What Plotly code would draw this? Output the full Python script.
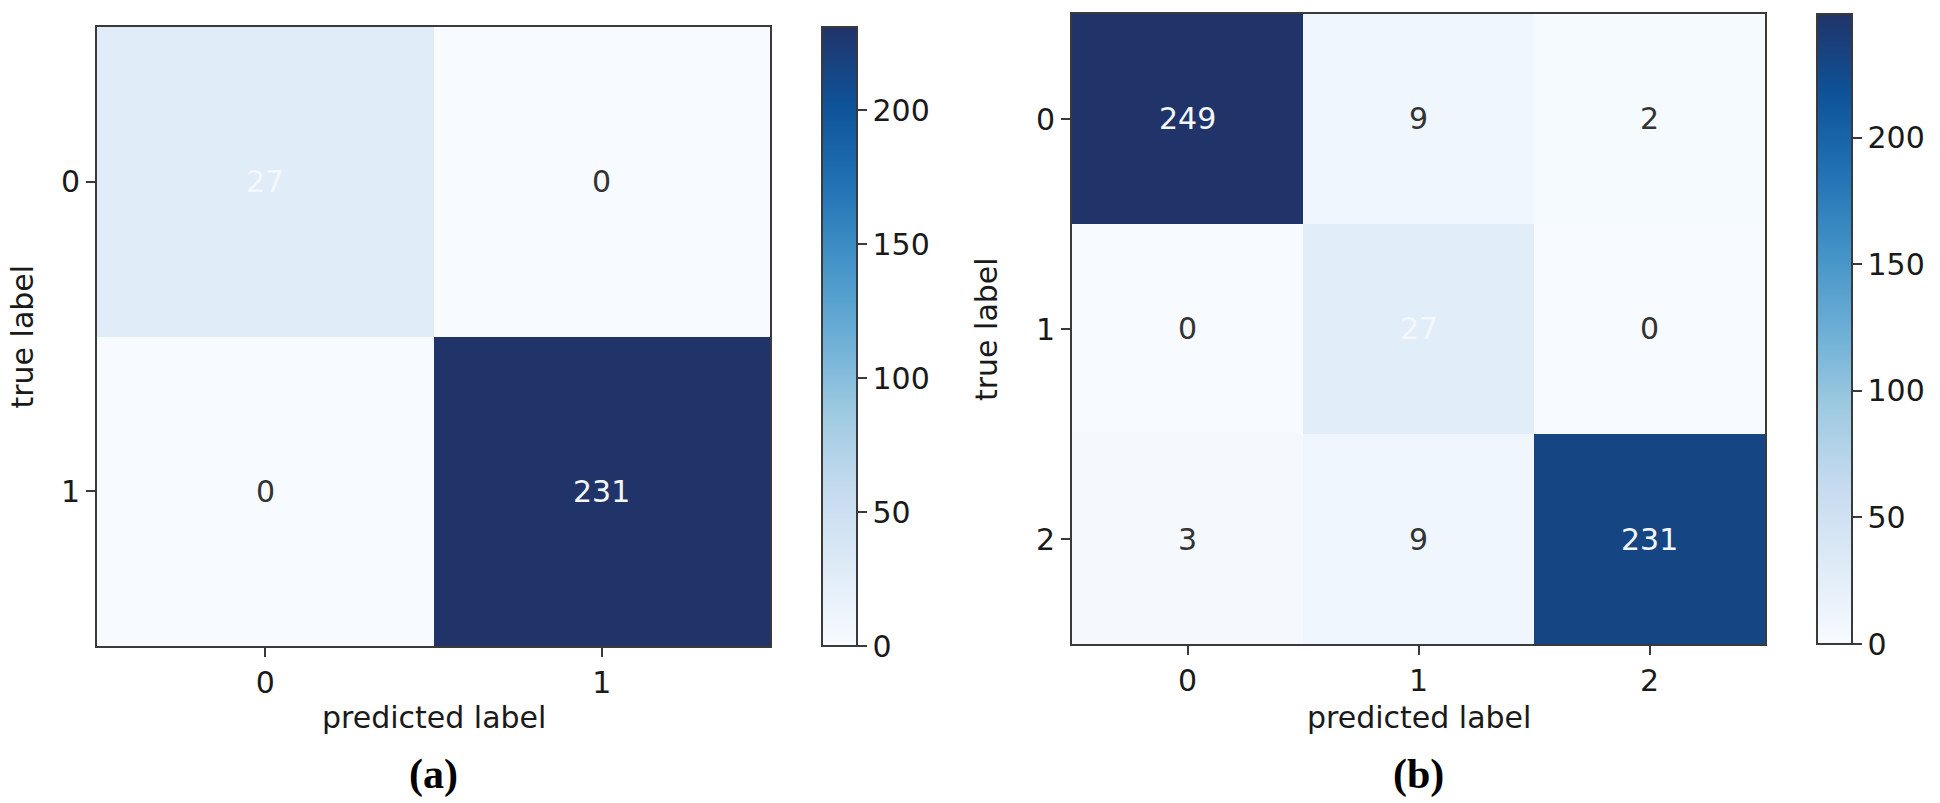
import plotly.graph_objects as go

# ---------------- data ----------------
labels_a = [0, 1]
cm_a = [[27, 0],
        [0, 231]]
labels_b = [0, 1, 2]
cm_b = [[249, 9, 2],
        [0, 27, 0],
        [3, 9, 231]]
cbar_ticks = [0, 50, 100, 150, 200]
captions = ["(a)", "(b)"]
x_title = "predicted label"
y_title = "true label"

# ---------------- layout helpers ----------------
W, H = 1940, 803
def px_x(v):
    return v / W
def px_y(v):
    return 1 - v / H

blues = [
    [0.0, "rgb(247,251,255)"], [0.125, "rgb(222,235,247)"], [0.25, "rgb(198,219,239)"],
    [0.375, "rgb(158,202,225)"], [0.5, "rgb(107,174,214)"], [0.625, "rgb(66,146,198)"],
    [0.75, "rgb(33,113,181)"], [0.875, "rgb(14,82,152)"], [1.0, "rgb(33,52,105)"],
]

FONT = "DejaVu Sans"
AXCOL = "#3a3a3a"
TXT = "#1a1a1a"

panels = [
    dict(cm=cm_a, labels=labels_a, box=(97, 770, 27, 646), cbar=(822, 27, 646),
         title_x=22, cap=captions[0]),
    dict(cm=cm_b, labels=labels_b, box=(1072, 1765, 14, 644), cbar=(1817, 14, 644),
         title_x=986, cap=captions[1]),
]

fig = go.Figure()
annotations = []
for i, p in enumerate(panels):
    n = len(p["labels"])
    x0, x1, y0, y1 = p["box"]
    xa = "x" if i == 0 else "x2"
    ya = "y" if i == 0 else "y2"
    cbx, cby0, cby1 = p["cbar"]
    zmax = max(max(r) for r in p["cm"])
    fig.add_trace(go.Heatmap(
        z=p["cm"], x=p["labels"], y=p["labels"], xaxis=xa, yaxis=ya,
        colorscale=blues, zmin=0, zmax=zmax, hoverinfo="z",
        colorbar=dict(
            x=px_x(cbx), xanchor="left", xref="paper", xpad=0, ypad=0,
            y=px_y(cby1), yanchor="bottom", len=(cby1 - cby0) / H, lenmode="fraction",
            thickness=35, thicknessmode="pixels",
            outlinewidth=2, outlinecolor=AXCOL,
            tickvals=cbar_ticks, ticks="outside", ticklen=9, tickwidth=2, tickcolor=AXCOL,
            tickfont=dict(family=FONT, size=30, color=TXT),
        ),
    ))
    # cell values
    for r in range(n):
        for c in range(n):
            annotations.append(dict(
                x=p["labels"][c], y=p["labels"][r], xref=xa, yref=ya,
                text=str(p["cm"][r][c]), showarrow=False,
                font=dict(family=FONT, size=30, color="#f4f7fb" if r == c else "#333333"),
            ))
    axk = "xaxis" if i == 0 else "xaxis2"
    ayk = "yaxis" if i == 0 else "yaxis2"
    fig.update_layout(**{
        axk: dict(domain=[px_x(x0), px_x(x1)], anchor=ya, range=[-0.5, n - 0.5],
                  tickvals=p["labels"], ticks="outside", ticklen=9, tickwidth=2, tickcolor=AXCOL,
                  showline=True, linewidth=2, linecolor=AXCOL, mirror=True,
                  showgrid=False, zeroline=False,
                  tickfont=dict(family=FONT, size=30, color=TXT)),
        ayk: dict(domain=[px_y(y1), px_y(y0)], anchor=xa, range=[n - 0.5, -0.5],
                  tickvals=p["labels"], ticks="outside", ticklen=9, tickwidth=2, tickcolor=AXCOL,
                  showline=True, linewidth=2, linecolor=AXCOL, mirror=True,
                  showgrid=False, zeroline=False,
                  tickfont=dict(family=FONT, size=30, color=TXT)),
    })
    cx = (x0 + x1) / 2
    # x axis title
    annotations.append(dict(x=px_x(cx), y=px_y(717), xref="paper", yref="paper",
                            text=x_title, showarrow=False, xanchor="center", yanchor="middle",
                            font=dict(family=FONT, size=30, color=TXT)))
    # y axis title
    annotations.append(dict(x=px_x(p["title_x"]), y=px_y((y0 + y1) / 2), xref="paper", yref="paper",
                            text=y_title, showarrow=False, textangle=-90,
                            xanchor="center", yanchor="middle",
                            font=dict(family=FONT, size=30, color=TXT)))
    # caption
    annotations.append(dict(x=px_x(cx), y=px_y(774), xref="paper", yref="paper",
                            text="<b>" + p["cap"] + "</b>", showarrow=False,
                            xanchor="center", yanchor="middle",
                            font=dict(family="Liberation Serif", size=42, color="#000000")))

fig.update_layout(
    width=W, height=H, margin=dict(l=0, r=0, t=0, b=0),
    paper_bgcolor="white", plot_bgcolor="white",
    annotations=annotations, showlegend=False,
)
fig.write_html("out.html", config={"displayModeBar": False},
               post_script="document.body.style.margin='0px';document.body.style.overflow='hidden';")
